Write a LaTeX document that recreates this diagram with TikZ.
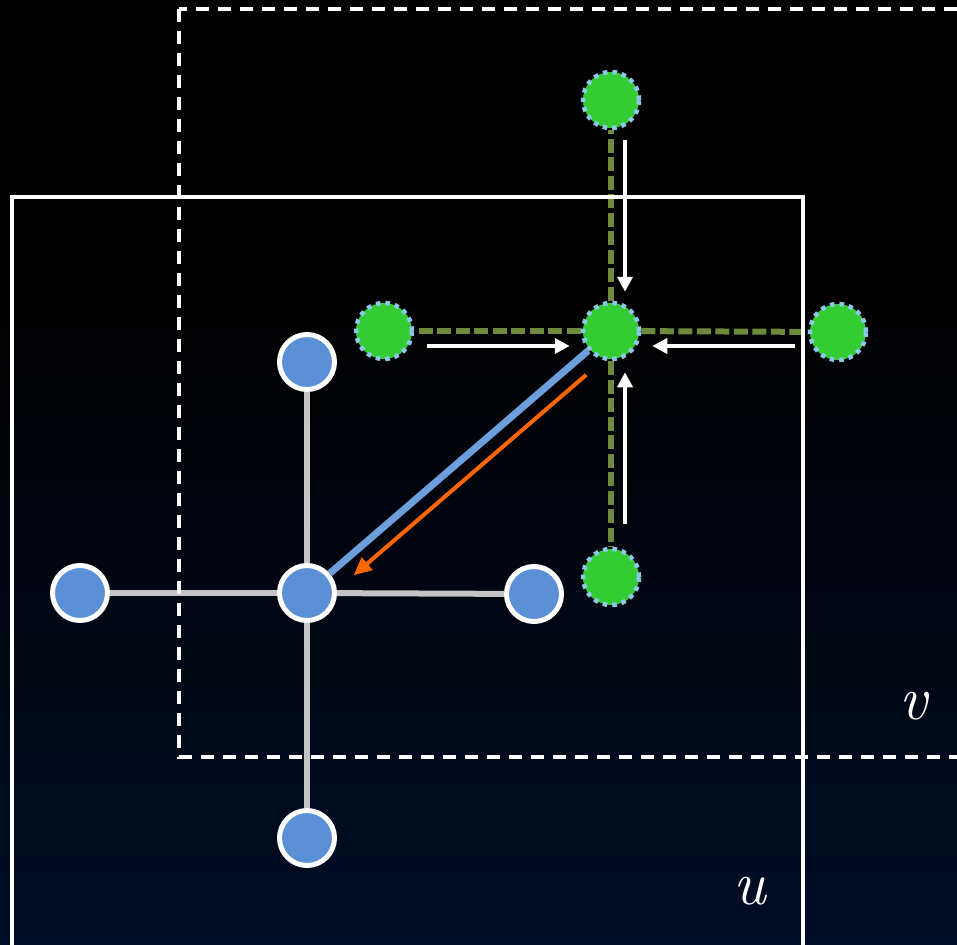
\documentclass[tikz,border=0pt]{standalone}
\usetikzlibrary{arrows.meta, positioning, calc, backgrounds}
\definecolor{cnavy}{HTML}{000D26}
\definecolor{cblue}{HTML}{5B8FD6}
\definecolor{clblue}{HTML}{6E9FDD}
\definecolor{cgreen}{HTML}{33CC33}
\definecolor{cdots}{HTML}{8CC8E8}
\definecolor{colive}{HTML}{6E8B3D}
\definecolor{corange}{HTML}{FF6600}
\definecolor{cgrey}{HTML}{C4C4C4}
\pgfdeclarelayer{edges}
\pgfsetlayers{background,edges,main}
\tikzset{
  bnode/.style={circle, draw=white, fill=cblue, line width=5pt, minimum size=55pt, inner sep=0pt},
  gnode/.style={circle, draw=cdots, fill=cgreen, line width=4.5pt, dash pattern=on 4.5pt off 5pt, minimum size=56pt, inner sep=0pt},
  gedge/.style={draw=cgrey, line width=6pt},
  oedge/.style={draw=colive, line width=6pt, dash pattern=on 14pt off 4.5pt},
  flow/.style={-{Triangle[length=15pt, width=15pt]}, draw=white, line width=4pt},
  frame/.style={draw=white, line width=3.8pt},
  lbl/.style={text=white, font=\fontsize{62}{70}\selectfont\itshape},
}

\begin{document}
\begin{tikzpicture}[x=1pt, y=-1pt]
  \useasboundingbox (0,0) rectangle (957,944);
  \begin{pgfonlayer}{background}
    \fill[black] (0,0) rectangle (957,944);
    \shade[top color=black, bottom color=cnavy] (0,300) rectangle (957,944);
  \end{pgfonlayer}
  % the two windows
  \draw[frame] (12,197) rectangle (803,960);
  \draw[frame, dash pattern=on 13pt off 9pt] (179,9) rectangle (975,757);
  \node[lbl] (labelV) at (913,706) {v};
  \node[lbl] (labelU) at (750,891) {u};
  % blue star
  \node[bnode] (bC) at (307,593) {};
  \node[bnode] (bN) at (307,362) {};
  \node[bnode] (bW) at (80,593) {};
  \node[bnode] (bE) at (534,594) {};
  \node[bnode] (bS) at (307,838) {};
  % green star
  \node[gnode] (gC) at (611,331) {};
  \node[gnode] (gN) at (611,100) {};
  \node[gnode] (gW) at (384,331) {};
  \node[gnode] (gE) at (838,332) {};
  \node[gnode] (gS) at (611,577) {};
  \begin{pgfonlayer}{edges}
    \foreach \n in {bN, bW, bE, bS} \draw[gedge] (bC) -- (\n);
    \foreach \n in {gN, gW, gE, gS} \draw[oedge] (gC) -- (\n);
  \end{pgfonlayer}
  % messages into the centre
  \draw[flow, shorten <=10pt, shorten >=9pt] ([xshift=14pt]gN.south) -- ([xshift=14pt]gC.north);
  \draw[flow, shorten <=13pt, shorten >=11pt] ([yshift=-15pt]gW.east) -- ([yshift=-15pt]gC.west);
  \draw[flow, shorten <=13pt, shorten >=11pt] ([yshift=-14pt]gE.west) -- ([yshift=-15pt]gC.east);
  \draw[flow, shorten <=23pt, shorten >=11pt] ([xshift=14pt]gS.north) -- ([xshift=14pt]gC.south);
  % link between the two
  \draw[draw=clblue, line width=7pt] (gC) -- (bC);
  \draw[-{Triangle[length=18pt, width=16pt]}, draw=corange, fill=corange, line width=4pt, shorten <=17pt, shorten >=17pt,
    transform canvas={xshift=11pt, yshift=-13pt}] (gC) -- (bC);
\end{tikzpicture}
\end{document}
